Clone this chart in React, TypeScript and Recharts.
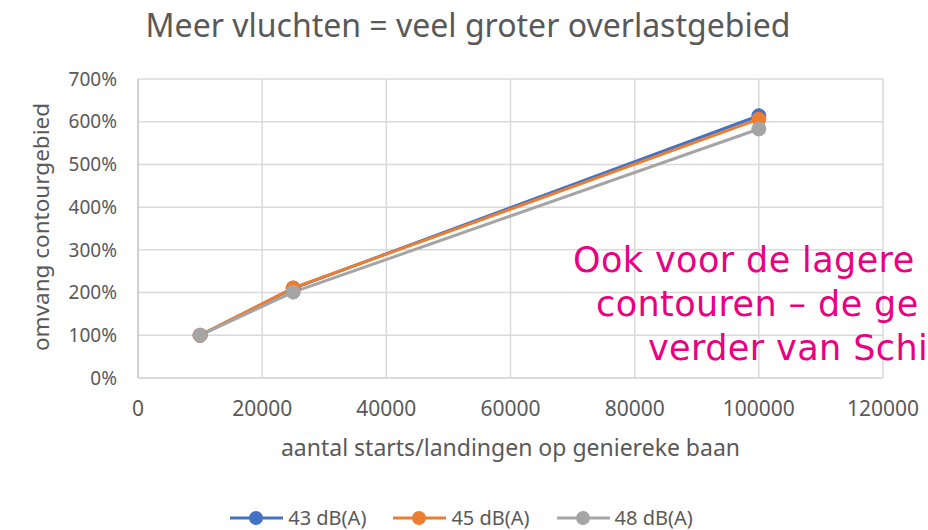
import React from "react";
import { LineChart, Line, XAxis, YAxis, CartesianGrid } from "recharts";

const flights = [10000, 25000, 100000];
const db43 = [100, 210, 614];
const db45 = [100, 211, 606];
const db48 = [100, 201, 583];
const xTicks = [0, 20000, 40000, 60000, 80000, 100000, 120000];
const yTicks = [0, 100, 200, 300, 400, 500, 600, 700];
const seriesNames = ["43 dB(A)", "45 dB(A)", "48 dB(A)"];
const COLORS = ["#4472C4", "#ED7D31", "#A5A5A5"];
const noteLines = ["Ook voor de lagere", "contouren – de ge", "verder van Schi"];

const data = flights.map((x, i) => ({
  x,
  a: db43[i],
  b: db45[i],
  c: db48[i],
}));

const FONT = "'Noto Sans', sans-serif";
const TEXT = "#595959";

const ChartLegend = () => (
  <div
    style={{
      position: "absolute",
      left: 0,
      top: 504,
      width: 928,
      display: "flex",
      justifyContent: "center",
      gap: 26,
      fontFamily: FONT,
      fontSize: 20,
      lineHeight: "28px",
      color: TEXT,
      paddingRight: 6,
      boxSizing: "border-box",
    }}
  >
    {seriesNames.map((name, i) => (
      <span key={name} style={{ display: "flex", alignItems: "center" }}>
        <svg width={56} height={16} style={{ marginRight: 3 }}>
          <line x1={1} y1={8} x2={54} y2={8} stroke={COLORS[i]} strokeWidth={3} />
          <circle cx={27} cy={8} r={7} fill={COLORS[i]} />
        </svg>
        {name}
      </span>
    ))}
  </div>
);

const App = () => {
  const keys = ["a", "b", "c"];
  return (
    <div
      style={{
        position: "absolute",
        left: 0,
        top: 0,
        width: 928,
        height: 530,
        overflow: "hidden",
        background: "#fff",
      }}
    >
      <div
        style={{
          position: "absolute",
          top: 5,
          left: 4,
          width: 928,
          textAlign: "center",
          fontFamily: FONT,
          fontSize: 32,
          lineHeight: "40px",
          color: TEXT,
        }}
      >
        Meer vluchten = veel groter overlastgebied
      </div>
      <LineChart
        width={928}
        height={530}
        data={data}
        margin={{ top: 79, right: 45, bottom: 112, left: 0 }}
      >
        <CartesianGrid stroke="#d9d9d9" strokeWidth={1.5} />
        <XAxis
          dataKey="x"
          type="number"
          domain={[0, 120000]}
          ticks={xTicks}
          tickLine={false}
          axisLine={{ stroke: "#d9d9d9", strokeWidth: 1.5 }}
          tick={{ fill: TEXT, fontSize: 21, fontFamily: FONT }}
          tickMargin={17}
          height={40}
        />
        <YAxis
          type="number"
          domain={[0, 700]}
          ticks={yTicks}
          width={138}
          tickLine={false}
          axisLine={{ stroke: "#c8c8c8", strokeWidth: 1.5 }}
          tickFormatter={(v) => `${v}%`}
          tick={{ fill: TEXT, fontSize: 19, fontFamily: FONT }}
          tickMargin={15}
        />
        {keys.map((k, i) => (
          <Line
            key={k}
            dataKey={k}
            name={seriesNames[i]}
            type="linear"
            stroke={COLORS[i]}
            strokeWidth={3}
            dot={{ r: 7, fill: COLORS[i], stroke: COLORS[i], strokeWidth: 1 }}
            activeDot={false}
            isAnimationActive={false}
          />
        ))}
      </LineChart>
      <div style={{ position: "absolute", left: 41, top: 227, width: 0, height: 0 }}>
        <div
          style={{
            position: "absolute",
            left: 0,
            top: 0,
            transform: "translate(-50%, -50%) rotate(-90deg)",
            whiteSpace: "nowrap",
            fontFamily: FONT,
            fontSize: 22.5,
            lineHeight: "28px",
            color: TEXT,
          }}
        >
          omvang contourgebied
        </div>
      </div>
      <div
        style={{
          position: "absolute",
          top: 432,
          left: 138,
          width: 745,
          textAlign: "center",
          fontFamily: FONT,
          fontSize: 23,
          lineHeight: "30px",
          color: TEXT,
        }}
      >
        aantal starts/landingen op geniereke baan
      </div>
      <ChartLegend />
      {noteLines.map((line, i) => (
        <div
          key={line}
          style={{
            position: "absolute",
            left: [573, 596, 648][i],
            top: 238 + i * 44,
            fontFamily: "'DejaVu Sans', sans-serif",
            fontSize: 35,
            letterSpacing: 0.4,
            lineHeight: "44px",
            color: "#EA0080",
            whiteSpace: "nowrap",
          }}
        >
          {line}
        </div>
      ))}
    </div>
  );
};

export default App;
